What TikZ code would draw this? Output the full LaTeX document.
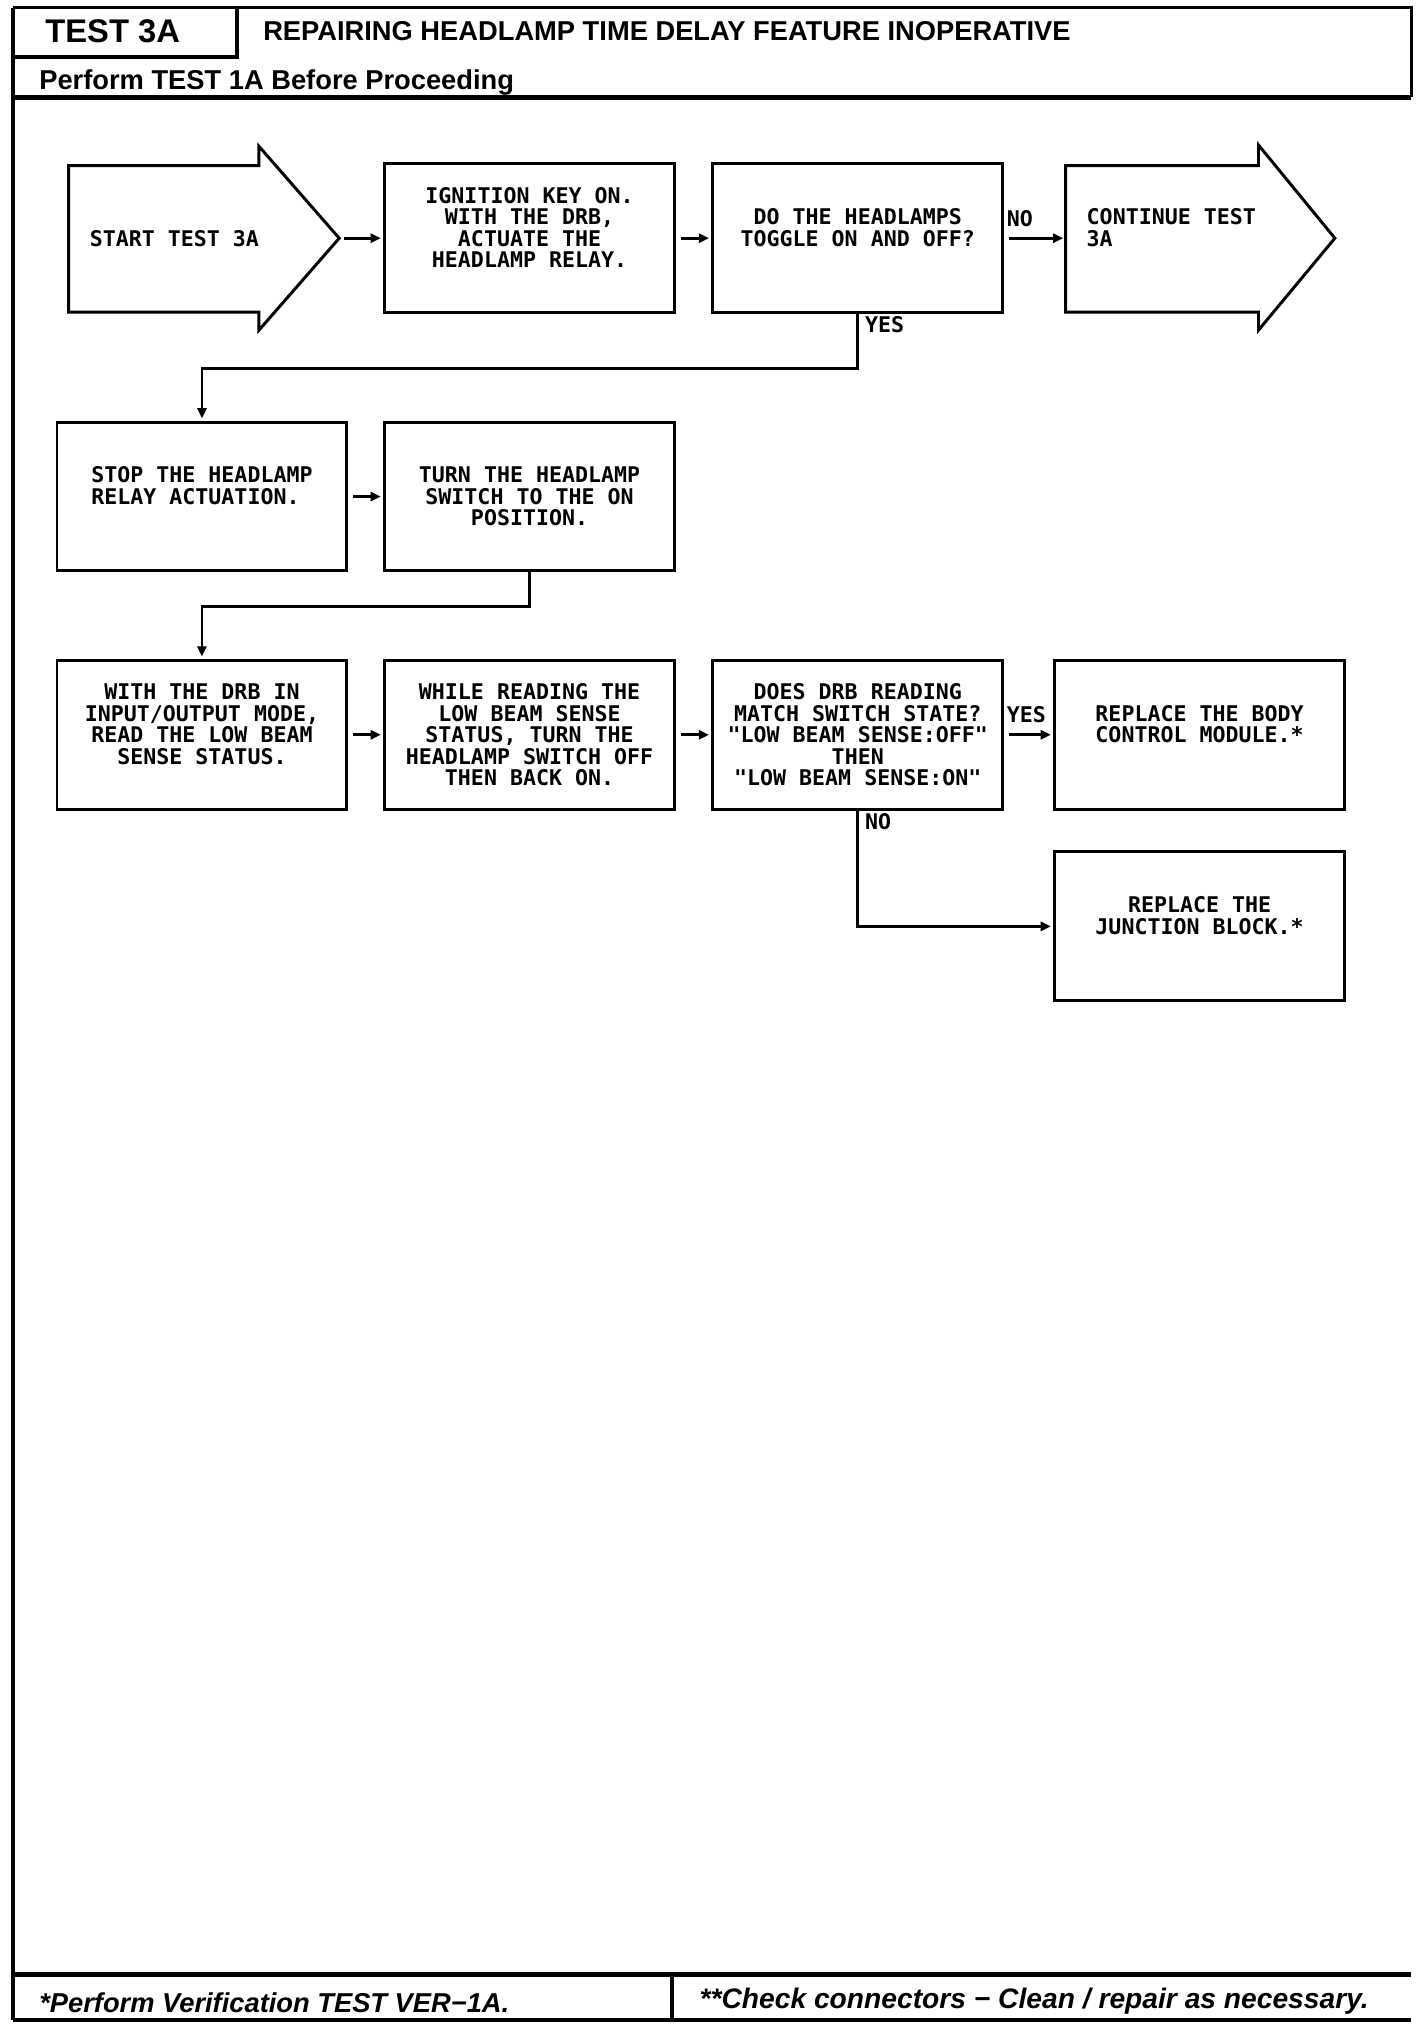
\documentclass[tikz,border=0pt]{standalone}
\usepackage{fontspec}
\setmainfont{Liberation Sans}
\newfontfamily\plotfont{DejaVu Sans Mono}
\usetikzlibrary{arrows.meta}

\tikzset{
  stepbox/.style={draw, line width=1.3pt, minimum width=4.48cm, minimum height=2.3cm,
    inner sep=0pt, align=center, font=\plotfont\bfseries\fontsize{9.5pt}{9.5pt}\selectfont},
  evenlines/.style={text depth=9.5pt},
  plottext/.style={inner sep=0pt, font=\plotfont\bfseries\fontsize{9.5pt}{9.5pt}\selectfont},
  tag/.style={inner sep=1pt, font=\plotfont\bfseries\fontsize{9.5pt}{9.5pt}\selectfont},
  flow/.style={line width=1.3pt, -{Triangle[length=4.5pt,width=4pt]}, shorten <=2pt, shorten >=1pt},
  frame/.style={line width=1.4pt}
}

\begin{document}
\begin{tikzpicture}[x=0.02cm,y=-0.02cm]
  \useasboundingbox (0,0) rectangle (1100,1571);

  % Frame
  \draw[frame] (10,6) -- (1090,6) -- (1090,75);
  \draw[frame] (10,6) -- (10,1560);
  \draw[frame] (183,6) -- (183,44) -- (10,44);
  \draw[line width=2.2pt] (10,75) -- (1090,75);
  \draw[line width=2pt] (10,1525) -- (1090,1525);
  \draw[line width=2pt] (10,1560) -- (1090,1560);
  \draw[frame] (519,1525) -- (519,1560);

  % Header and footer texts
  \node[anchor=base, inner sep=0pt, font=\bfseries\fontsize{14.4pt}{14.4pt}\selectfont] (testno) at (87,33) {TEST 3A};
  \node[anchor=base west, inner sep=0pt, font=\bfseries\fontsize{12pt}{12pt}\selectfont] (title) at (203,31) {REPAIRING HEADLAMP TIME DELAY FEATURE INOPERATIVE};
  \node[anchor=base west, inner sep=0pt, font=\bfseries\fontsize{12pt}{12pt}\selectfont] (before) at (30,69) {Perform TEST 1A Before Proceeding};
  \node[anchor=base west, inner sep=0pt, font=\bfseries\itshape\fontsize{12pt}{12pt}\selectfont] (verify) at (30,1554) {*Perform Verification TEST VER−1A.};
  \node[anchor=base west, inner sep=0pt, font=\bfseries\itshape\fontsize{12.4pt}{12.4pt}\selectfont] (check) at (540,1551) {**Check connectors − Clean / repair as necessary.};

  % Start and continue arrows
  \coordinate (starttip) at (262,184);
  \coordinate (conttail) at (823,184);
  \draw[line width=1.3pt] (53,128) -- (200,128) -- (200,113) -- (starttip) -- (200,255) -- (200,241) -- (53,241) -- cycle;
  \draw[line width=1.3pt] (conttail |- 0,128) -- (972,128) -- (972,112) -- (1031,184) -- (972,255) -- (972,241) -- (conttail |- 0,241) -- cycle;
  \node[plottext, anchor=west] (start) at (69,184) {START TEST 3A};
  \node[plottext, anchor=west, align=left, evenlines] (cont) at (839,184) {CONTINUE TEST\\3A};

  % Boxes
  \node[stepbox, evenlines] (ign) at (409,184) {IGNITION KEY ON.\\WITH THE DRB,\\ACTUATE THE\\HEADLAMP RELAY.};
  \node[stepbox, evenlines] (toggle) at (662.5,184) {DO THE HEADLAMPS\\TOGGLE ON AND OFF?};
  \node[stepbox, evenlines, align=left] (stop) at (156,383.5) {STOP THE HEADLAMP\\RELAY ACTUATION.};
  \node[stepbox] (turn) at (409,383.5) {TURN THE HEADLAMP\\SWITCH TO THE ON\\POSITION.};
  \node[stepbox, evenlines] (iomode) at (156,567.5) {WITH THE DRB IN\\INPUT/OUTPUT MODE,\\READ THE LOW BEAM\\SENSE STATUS.};
  \node[stepbox] (toggle2) at (409,567.5) {WHILE READING THE\\LOW BEAM SENSE\\STATUS, TURN THE\\HEADLAMP SWITCH OFF\\THEN BACK ON.};
  \node[stepbox] (match) at (662.5,567.5) {DOES DRB READING\\MATCH SWITCH STATE?\\"LOW BEAM SENSE:OFF"\\THEN\\"LOW BEAM SENSE:ON"};
  \node[stepbox, evenlines, align=left] (bcm) at (926.5,567.5) {REPLACE THE BODY\\CONTROL MODULE.*};
  \node[stepbox, evenlines] (jb) at (926.5,715.5) {REPLACE THE\\JUNCTION BLOCK.*};

  % Connectors
  \draw[flow] (starttip) -- (ign.west);
  \draw[flow] (ign) -- (toggle);
  \draw[flow] (toggle) -- (conttail);
  \draw[flow, shorten <=0pt] (toggle.south) -- ++(0,42) -| (stop.north);
  \draw[flow] (stop) -- (turn);
  \draw[flow, shorten <=0pt] (turn.south) -- ++(0,26) -| (iomode.north);
  \draw[flow] (iomode) -- (toggle2);
  \draw[flow] (toggle2) -- (match);
  \draw[flow] (match) -- (bcm);
  \draw[flow, shorten <=0pt] (match.south) |- (jb.west);

  % Labels
  \node[tag, anchor=south west, yshift=4pt] (no1) at (toggle.east) {NO};
  \node[tag, anchor=north west, xshift=2pt] (yes1) at (toggle.south) {YES};
  \node[tag, anchor=south west, yshift=4pt] (yes2) at (match.east) {YES};
  \node[tag, anchor=north west, xshift=2pt] (no2) at (match.south) {NO};
\end{tikzpicture}
\end{document}
